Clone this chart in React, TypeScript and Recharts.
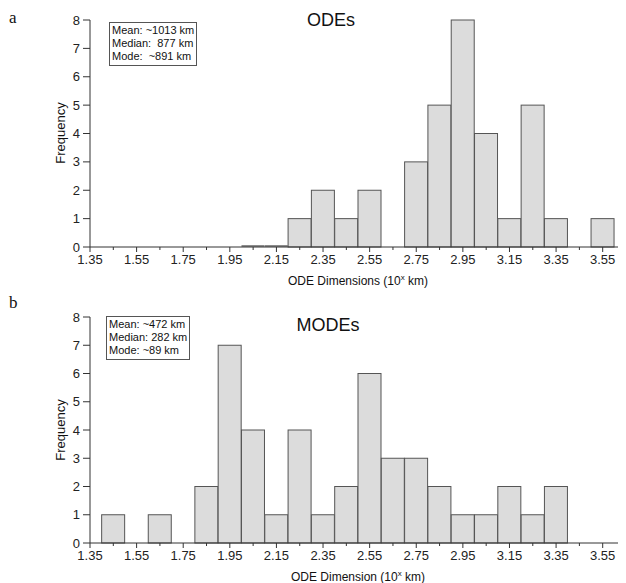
import { BarChart, Bar, XAxis, YAxis } from 'recharts'

// bin centres (10^x km), bin width 0.1
const odeBins = [2.05, 2.15, 2.25, 2.35, 2.45, 2.55, 2.65, 2.75, 2.85, 2.95, 3.05, 3.15, 3.25, 3.35, 3.45, 3.55]
const odeCounts = [0, 0, 1, 2, 1, 2, 0, 3, 5, 8, 4, 1, 5, 1, 0, 1]

const modeBins = [1.45, 1.55, 1.65, 1.75, 1.85, 1.95, 2.05, 2.15, 2.25, 2.35, 2.45, 2.55, 2.65, 2.75, 2.85, 2.95, 3.05, 3.15, 3.25, 3.35]
const modeCounts = [1, 0, 1, 0, 2, 7, 4, 1, 4, 1, 2, 6, 3, 3, 2, 1, 1, 2, 1, 2]

const xTicks = [1.35, 1.45, 1.55, 1.65, 1.75, 1.85, 1.95, 2.05, 2.15, 2.25, 2.35, 2.45, 2.55, 2.65, 2.75, 2.85, 2.95, 3.05, 3.15, 3.25, 3.35, 3.45, 3.55]
const xLabels = [1.35, 1.55, 1.75, 1.95, 2.15, 2.35, 2.55, 2.75, 2.95, 3.15, 3.35, 3.55]
const yTicks = [0, 1, 2, 3, 4, 5, 6, 7, 8]

const odeStats = ['Mean: ~1013 km', 'Median:  877 km', 'Mode:  ~891 km']
const modeStats = ['Mean: ~472 km', 'Median: 282 km', 'Mode: ~89 km']

const FONT = '"Liberation Sans", Arial, sans-serif'
const AXIS = '#333'

const odeData = odeBins.map((bin, i) => ({ bin, count: odeCounts[i] }))
const modeData = modeBins.map((bin, i) => ({ bin, count: modeCounts[i] }))

function XTick(props: any) {
  const { x, y, payload } = props
  const major = xLabels.includes(payload.value)
  return (
    <g>
      <line x1={x} x2={x} y1={y} y2={y + (major ? 5 : 3)} stroke={AXIS} />
      {major && (
        <text x={x} y={y + 17} textAnchor="middle" fontSize={13} fontFamily={FONT} fill="#222">
          {payload.value.toFixed(2)}
        </text>
      )}
    </g>
  )
}

// leading empty bins keep their outline, drawn as a flat line on the baseline
function binShape(data: { count: number }[], showEmpty: boolean) {
  const firstFilled = data.findIndex((d) => d.count > 0)
  return (props: any) => {
    const { x, y, width, height, index } = props
    if (!height) {
      return showEmpty && index < firstFilled ? (
        <line x1={x} x2={x + width} y1={y - 1} y2={y - 1} stroke="#666" strokeWidth={1.5} />
      ) : (
        <g />
      )
    }
    return <rect x={x} y={y} width={width} height={height} fill="#dcdcdc" stroke="#555" strokeWidth={1} />
  }
}

interface HistProps {
  data: { bin: number; count: number }[]
  top: number
  height: number
  marginTop: number
  axisHeight: number
  showEmpty: boolean
}

function Histogram({ data, top, height, marginTop, axisHeight, showEmpty }: HistProps) {
  return (
    <div style={{ position: 'absolute', left: 0, top }}>
      <BarChart
        width={626}
        height={height}
        data={data}
        margin={{ top: marginTop, right: 0, bottom: 0, left: 0 }}
        barCategoryGap={0}
        barGap={0}
      >
        <XAxis
          dataKey="bin"
          type="number"
          domain={[1.35, 3.65]}
          allowDataOverflow
          ticks={xTicks}
          interval={0}
          height={axisHeight}
          tickSize={0}
          tickMargin={0}
          tickLine={false}
          tick={<XTick />}
          stroke={AXIS}
        />
        <YAxis
          domain={[0, 8]}
          ticks={yTicks}
          interval={0}
          width={90}
          tickSize={7}
          tickMargin={3}
          stroke={AXIS}
          tick={{ fontSize: 13, fontFamily: FONT, fill: '#222' }}
        />
        <Bar dataKey="count" isAnimationActive={false} shape={binShape(data, showEmpty)} />
      </BarChart>
    </div>
  )
}

function StatsBox({ lines, left, top }: { lines: string[]; left: number; top: number }) {
  return (
    <div
      style={{
        position: 'absolute',
        left,
        top,
        border: '1px solid #555',
        padding: '1px 2px 2px 2px',
        fontFamily: FONT,
        fontSize: 11,
        lineHeight: '13px',
        color: '#111',
        background: '#fff',
        whiteSpace: 'pre',
      }}
    >
      {lines.map((l) => (
        <div key={l}>{l}</div>
      ))}
    </div>
  )
}

const textStyle = { position: 'absolute' as const, fontFamily: FONT, color: '#111', whiteSpace: 'nowrap' as const }

function XTitle({ top, text }: { top: number; text: string }) {
  return (
    <div style={{ ...textStyle, left: 358, top, fontSize: 12, transform: 'translate(-50%, -50%)' }}>
      {text} (10<span style={{ fontSize: 8, position: 'relative', top: -5 }}>x</span> km)
    </div>
  )
}

function YTitle({ top }: { top: number }) {
  return (
    <div style={{ ...textStyle, left: 60, top, fontSize: 13, transform: 'translate(-50%, -50%) rotate(-90deg)' }}>
      Frequency
    </div>
  )
}

export default function App() {
  return (
    <div style={{ position: 'relative', left: -8, top: -8, width: 626, height: 583, background: '#fff' }}>
      <Histogram data={odeData} top={0} height={290} marginTop={20} axisHeight={43} showEmpty />
      <Histogram data={modeData} top={290} height={293} marginTop={27} axisHeight={40} showEmpty={false} />

      <div style={{ ...textStyle, left: 9, top: 8, fontFamily: '"Liberation Serif", serif', fontSize: 17 }}>a</div>
      <div style={{ ...textStyle, left: 9, top: 293, fontFamily: '"Liberation Serif", serif', fontSize: 17 }}>b</div>

      <div style={{ ...textStyle, left: 331, top: 20, fontSize: 18, transform: 'translate(-50%, -50%)' }}>ODEs</div>
      <div style={{ ...textStyle, left: 328, top: 325, fontSize: 18, transform: 'translate(-50%, -50%)' }}>MODEs</div>

      <StatsBox lines={odeStats} left={109} top={22} />
      <StatsBox lines={modeStats} left={106} top={316} />

      <YTitle top={133} />
      <YTitle top={430} />
      <XTitle top={281} text="ODE Dimensions" />
      <XTitle top={577} text="ODE Dimension" />
    </div>
  )
}
